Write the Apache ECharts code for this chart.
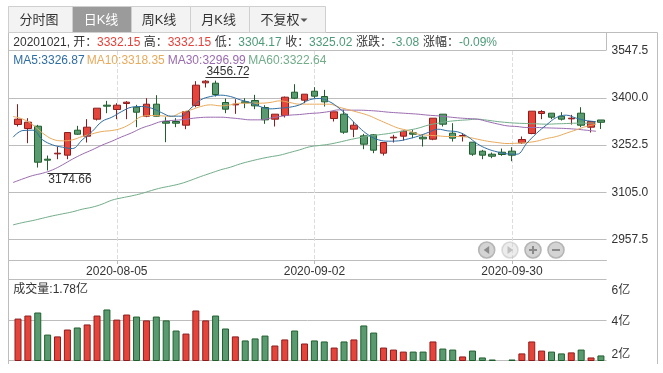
<!DOCTYPE html>
<html><head><meta charset="utf-8">
<style>html,body{margin:0;padding:0;background:#fff}#c{width:663px;height:373px}</style>
<script src="https://cdn.jsdelivr.net/npm/echarts@6/dist/echarts.min.js"></script>
</head><body><div id="c"></div>
<script>
const dates=['2020-07-22','2020-07-23','2020-07-24','2020-07-27','2020-07-28','2020-07-29','2020-07-30','2020-07-31','2020-08-03','2020-08-04','2020-08-05','2020-08-06','2020-08-07','2020-08-10','2020-08-11','2020-08-12','2020-08-13','2020-08-14','2020-08-17','2020-08-18','2020-08-19','2020-08-20','2020-08-21','2020-08-24','2020-08-25','2020-08-26','2020-08-27','2020-08-28','2020-08-31','2020-09-01','2020-09-02','2020-09-03','2020-09-04','2020-09-07','2020-09-08','2020-09-09','2020-09-10','2020-09-11','2020-09-14','2020-09-15','2020-09-16','2020-09-17','2020-09-18','2020-09-21','2020-09-22','2020-09-23','2020-09-24','2020-09-25','2020-09-28','2020-09-29','2020-09-30','2020-10-09','2020-10-12','2020-10-13','2020-10-14','2020-10-15','2020-10-16','2020-10-19','2020-10-20','2020-10-21'];
// [open, close, low, high]
const ohlc=[[3318,3334.7,3311.8,3381.5],[3305.5,3325.3,3259.7,3337.8],[3312.8,3200.4,3183.8,3317],[3209.8,3206.7,3174.66,3221.2],[3226.4,3228.5,3209.8,3249.3],[3222.3,3293,3209.8,3293],[3300.3,3287.8,3285.8,3313.8],[3281.6,3309.7,3261.8,3334.7],[3334.7,3369,3330.5,3369],[3378.4,3375.3,3353.4,3391.9],[3364.8,3378.4,3334.7,3384.6],[3383.6,3387.7,3334.7,3390.9],[3372.1,3356.5,3309.7,3379.4],[3344,3381.5,3340.9,3400.2],[3381.5,3344,3343,3409.6],[3327.4,3322.2,3262.9,3340.9],[3327.4,3322.2,3309.7,3337.8],[3315.9,3358.6,3303.4,3358.6],[3377.3,3440.8,3372.1,3453.3],[3448.1,3453.3,3433.5,3456.72],[3447,3411.7,3405.4,3455],[3386.7,3365.9,3353.4,3399.2],[3379.4,3381.5,3351.3,3397.1],[3388.8,3385.7,3369,3400.2],[3392.9,3376.3,3365.9,3410.6],[3371,3332.6,3320.1,3378.4],[3334.7,3350.3,3311.8,3350.3],[3346.1,3403.3,3339.9,3405.4],[3418.9,3400.2,3397.1,3443.9],[3394,3412.7,3384.6,3412.7],[3422,3406.5,3400.2,3434.6],[3405.4,3388.8,3374.2,3426.2],[3336.7,3357.6,3327.4,3357.6],[3350.3,3294.1,3288.9,3363.8],[3303.4,3315.9,3278.5,3326.3],[3282.6,3256.6,3241,3288.9],[3285.8,3237.9,3228.5,3287.8],[3228.5,3261.8,3221.2,3261.8],[3276.4,3278.5,3261.8,3285.8],[3281.6,3297.2,3268,3299.3],[3292,3287.8,3275.4,3301.4],[3278.5,3273.3,3249.3,3284.7],[3272.2,3337.8,3269.1,3337.8],[3350.3,3319,3311.8,3350.3],[3291,3275.4,3264.9,3322.2],[3281.6,3283.7,3264.9,3291],[3262.9,3225.4,3220.2,3262.9],[3234.8,3222.3,3209.8,3238.9],[3225.4,3219.1,3212.9,3230.6],[3231.6,3224.4,3220.2,3243.1],[3234.8,3222.3,3203.5,3247.3],[3260.8,3271.2,3257.6,3280.6],[3289.9,3359.6,3287.8,3359.6],[3352.4,3358.6,3334.7,3362.8],[3353.4,3340.9,3334.7,3353.4],[3344,3334.7,3330.5,3356.5],[3335.7,3337.8,3318,3348.2],[3353.4,3315.9,3309.7,3372.1],[3309.7,3327.4,3293,3327.4],[3332.15,3325.02,3304.17,3332.15]];
const ma5=[3278.5,3299.3,3300.3,3270.1,3254.5,3247.3,3243.1,3270.1,3296.2,3327.4,3340.9,3358.6,3372.1,3374.2,3369,3355.5,3344,3344,3369,3395,3405.4,3409.6,3405.4,3395,3386.7,3374.2,3366.9,3369,3372.1,3379.4,3395,3399.2,3389.8,3369,3340.9,3309.7,3284.7,3270.1,3266,3267,3273.3,3281.6,3293,3303.4,3298.2,3295.1,3280.6,3257.7,3242.1,3232.7,3226.4,3225.4,3259.7,3291,3317,3339.9,3347.2,3337.8,3330.5,3326.87];
const ma10=[3343,3334.7,3317,3291,3272.2,3267,3270.1,3280.6,3288.9,3296.2,3299.3,3306.6,3322.2,3343,3346.1,3345.1,3343,3355.5,3363.8,3374.2,3379.4,3376.3,3379.4,3384.6,3384.6,3384.6,3386.7,3391.9,3386.7,3381.5,3381.5,3381.5,3381.5,3372.1,3363.8,3355.5,3346.1,3332.6,3319.1,3306.6,3299.3,3287.8,3284.7,3282.6,3280.6,3280.6,3278.5,3272.2,3266,3261.8,3258.7,3259.7,3261.8,3266,3274.3,3280.6,3291,3301.4,3311.8,3318.35];
const ma30=[3137,3148.4,3158.8,3166.1,3176.5,3192.1,3209.8,3225.4,3238.9,3253.5,3266,3279.5,3292,3306.6,3317,3327.4,3330.5,3332.6,3336.7,3339.9,3340.9,3340.9,3338.8,3335.7,3332.6,3332.6,3337.8,3343,3347.2,3349.2,3352.4,3354.4,3358.6,3363.8,3362.8,3362.8,3361.7,3359.6,3356.5,3354.4,3352.4,3350.3,3347.2,3345.1,3341.9,3338.8,3336.7,3334.7,3327.4,3320.1,3313.9,3311.8,3308.7,3308.7,3307.6,3306.6,3305.5,3303.4,3300.3,3296.99];
const ma60=[3004.8,3012.1,3018.3,3025.6,3032.9,3039.1,3045.4,3053.7,3059.9,3069.3,3081.8,3089.1,3095.3,3102.6,3112,3120.3,3126.5,3133.8,3144.2,3155.7,3166.1,3176.5,3184.8,3195.2,3203.5,3210.8,3217.1,3222.3,3230.6,3238.9,3248.3,3252.5,3256.6,3262.9,3270.1,3276.4,3281.6,3285.8,3289.9,3295.1,3300.3,3306.6,3315.9,3322.2,3327.4,3330.5,3332.6,3334.7,3331.5,3327.4,3324.3,3322.2,3321.1,3320.1,3319,3320.1,3321.1,3322.2,3322.2,3322.64];
const volume=[4.07,4.22,4.37,3.28,3.19,3.53,3.63,3.78,4.22,4.52,4.02,4.27,4.17,3.98,4.17,3.98,3.48,3.33,4.47,3.98,4.22,3.58,3.19,2.99,3.09,3.23,2.74,3.04,3.48,2.84,2.99,2.94,2.64,2.94,3.04,3.73,3.38,2.64,2.54,2.44,2.44,2.44,2.94,2.59,2.54,2.2,2.49,2.15,2.05,2.02,2.05,2.35,2.94,2.49,2.44,2.35,2.4,2.54,2.15,2.25];
const priceTicks=[2957.5,3105,3252.5,3400,3547.5];
const volumeTicks=[2,4,6];
const tabs=['分时图','日K线','周K线','月K线','不复权'];
const dateLabels=['2020-08-05','2020-09-02','2020-09-30'];

const RED='#e5443a',REDB='#8f1c1c',GRN='#5a9a70',GRNB='#1f5f2c',GRID='#bdbdbd',TXT='#333';
const CBLUE='#2f6ea3',CORG='#e8aa5c',CPUR='#9a6bb0',CGRN='#72ad8a';
const FONT='"Liberation Sans","Noto Sans CJK SC",sans-serif';
const F12='12px '+FONT;
const L=13.06,W=592.8;
const isLabel=i=>dateLabels.includes(dates[i]);
const line=(x1,y1,x2,y2,c)=>({type:'line',z:0,silent:true,shape:{x1,y1,x2,y2},style:{stroke:c||GRID,lineWidth:1}});
const txt=(x,y,t,fill,align,font)=>({type:'text',z:20,style:{x,y,text:t,fill:fill||TXT,font:font||F12,align:align||'left',verticalAlign:'middle'}});
const g=[];
// frame
g.push(line(8.5,32.5,657.5,32.5),line(8.5,6.5,8.5,364),line(657.5,32.5,657.5,364),line(606.5,32.5,606.5,50));
// tabs
const tabX=[8.5,72.5,131.5,190.5,249.5,325.5],tabC=[39,101,159,218.7,280];
tabs.forEach((t,i)=>{
  g.push({type:'rect',z:1,shape:{x:tabX[i],y:6.5,width:tabX[i+1]-tabX[i],height:26},style:{fill:i==1?'#9b9b9b':'#f3f3f3',stroke:'#cfcfcf',lineWidth:1}});
  g.push(txt(tabC[i],20,t,i==1?'#fff':TXT,'center','13px '+FONT));
});
g.push({type:'polygon',z:20,shape:{points:[[300.5,18.5],[307.5,18.5],[304,22]]},style:{fill:'#555'}});
// info row
[[13.3,'20201021, 开：',TXT],[97,'3332.15','#e6413a'],[143.7,'高：',TXT],[167.7,'3332.15','#e6413a'],[214.7,'低：',TXT],[238.3,'3304.17','#4d9a78'],[285.3,'收：',TXT],[309,'3325.02','#4d9a78'],[356,'涨跌：',TXT],[391.7,'-3.08','#4d9a78'],[423,'涨幅：',TXT],[459,'-0.09%','#4d9a78']].forEach(a=>g.push(txt(a[0],42.5,a[1],a[2])));
[[13.3,'MA5:3326.87',CBLUE],[86.7,'MA10:3318.35',CORG],[167.7,'MA30:3296.99',CPUR],[248.3,'MA60:3322.64',CGRN]].forEach(a=>g.push(txt(a[0],60.5,a[1],a[2])));
g.push(txt(13.3,289.5,'成交量:1.78亿',TXT));
// extreme-value rules
g.push({...line(205.5,77.5,248.5,77.5,'#333'),z:20},{...line(47.5,173.5,90.5,173.5,'#333'),z:20});
// zoom controls
[[486.7,'l',1],[510,'r',.45],[533,'+',1],[556,'-',1]].forEach(b=>{
  const [x,k,o]=b,y=250;
  g.push({type:'circle',z:20,shape:{cx:x,cy:y,r:8},style:{fill:'#d4d4d4',stroke:'#b5b5b5',lineWidth:1.6,opacity:o}});
  const c='#8a8a8a';
  if(k=='l')g.push({type:'polygon',z:21,shape:{points:[[x+2.5,y-4],[x+2.5,y+4],[x-3,y]]},style:{fill:c}});
  if(k=='r')g.push({type:'polygon',z:21,shape:{points:[[x-2.5,y-4],[x-2.5,y+4],[x+3,y]]},style:{fill:c,opacity:o}});
  if(k=='+')g.push({type:'rect',z:21,shape:{x:x-4,y:y-1,width:8,height:2},style:{fill:c}},{type:'rect',z:21,shape:{x:x-1,y:y-4,width:2,height:8},style:{fill:c}});
  if(k=='-')g.push({type:'rect',z:21,shape:{x:x-4,y:y-1,width:8,height:2},style:{fill:c}});
});

const hidden={show:false};
const priceRange={min:2892,max:3547.5};
const ma=(name,d,c)=>({type:'line',name,data:d,xAxisIndex:2,yAxisIndex:1,smooth:0.4,showSymbol:false,symbol:'none',z:5,lineStyle:{color:c,width:1}});
const option={
  animation:false,backgroundColor:'#fff',
  graphic:{elements:g},
  grid:[
    {left:8.5,width:598,top:50.5,height:210},
    {left:L,width:W,top:51,height:210},
    {left:8.5,width:598,top:279.5,height:81},
    {left:L,width:W,top:279.5,height:81}
  ],
  xAxis:[
    {type:'value',gridIndex:0,min:0,max:1,axisLabel:hidden,axisTick:hidden,splitLine:hidden,axisLine:{show:true,lineStyle:{color:GRID}}},
    {type:'category',gridIndex:1,data:dates,boundaryGap:true,axisLine:hidden,
      axisTick:{show:true,length:3,alignWithLabel:true,interval:i=>isLabel(i),lineStyle:{color:'#bbb'}},
      splitLine:{show:true,alignWithLabel:true,interval:i=>isLabel(i),lineStyle:{color:'#ddd',type:'dashed'}},
      axisLabel:{show:true,interval:i=>isLabel(i),color:TXT,fontSize:12,fontFamily:FONT,margin:5,hideOverlap:false}},
    {type:'category',gridIndex:1,data:dates.concat(['']),boundaryGap:false,show:false},
    {type:'value',gridIndex:2,min:0,max:1,axisLabel:hidden,axisTick:hidden,splitLine:hidden,axisLine:hidden},
    {type:'category',gridIndex:3,data:dates,show:false}
  ],
  yAxis:[
    {type:'value',gridIndex:0,position:'right',...priceRange,
      axisLine:{show:true,lineStyle:{color:GRID}},
      axisTick:{show:true,length:3,customValues:priceTicks,lineStyle:{color:GRID}},
      splitLine:{show:true,lineStyle:{color:GRID}},
      axisLabel:{customValues:priceTicks,formatter:v=>v.toFixed(1),color:TXT,fontSize:12,fontFamily:FONT,margin:5,padding:[5,0,0,0],showMinLabel:true,showMaxLabel:true}},
    {type:'value',gridIndex:1,...priceRange,show:false},
    {type:'value',gridIndex:2,position:'right',min:2,max:6,
      axisLine:{show:true,lineStyle:{color:GRID}},
      axisTick:{show:true,length:3,customValues:volumeTicks,lineStyle:{color:GRID}},
      splitLine:{show:true,lineStyle:{color:GRID}},
      axisLabel:{customValues:volumeTicks,margin:5,color:TXT,fontSize:12,fontFamily:FONT,
        formatter:v=>v==6?'{t|6亿}':v==2?'{b|2亿}':'{m|4亿}',
        rich:{t:{padding:[23,0,0,0],fontSize:12,fontFamily:FONT},b:{padding:[0,0,12,0],fontSize:12,fontFamily:FONT},m:{padding:[4,0,0,0],fontSize:12,fontFamily:FONT}}}},
    {type:'value',gridIndex:3,min:2,max:6,show:false}
  ],
  series:[
    {type:'candlestick',name:'K',data:ohlc,xAxisIndex:1,yAxisIndex:1,barWidth:7,z:3,
      itemStyle:{color:RED,color0:GRN,borderColor:REDB,borderColor0:GRNB,borderWidth:1},
      markPoint:{symbol:'circle',symbolSize:0,silent:true,animation:false,
        label:{show:true,color:TXT,fontSize:12,fontFamily:FONT,align:'left',verticalAlign:'middle',formatter:p=>p.value.toFixed(2)},
        data:[
          {coord:[dates[19],3456.72],value:3456.72,label:{position:[0.7,-8.3]}},
          {coord:[dates[3],3174.66],value:3174.66,label:{position:[0.7,9.3]}}
        ]}},
    ma('MA60',ma60,CGRN),ma('MA30',ma30,CPUR),ma('MA10',ma10,CORG),ma('MA5',ma5,CBLUE),
    {type:'bar',name:'成交量',xAxisIndex:4,yAxisIndex:3,barWidth:7,z:3,
      data:volume.map((v,i)=>{const up=ohlc[i][1]>=ohlc[i][0];return {value:v,itemStyle:{color:up?RED:GRN,borderColor:up?REDB:GRNB,borderWidth:1}};})}
  ]
};
echarts.init(document.getElementById('c'),null,{renderer:'canvas'}).setOption(option);
</script></body></html>
